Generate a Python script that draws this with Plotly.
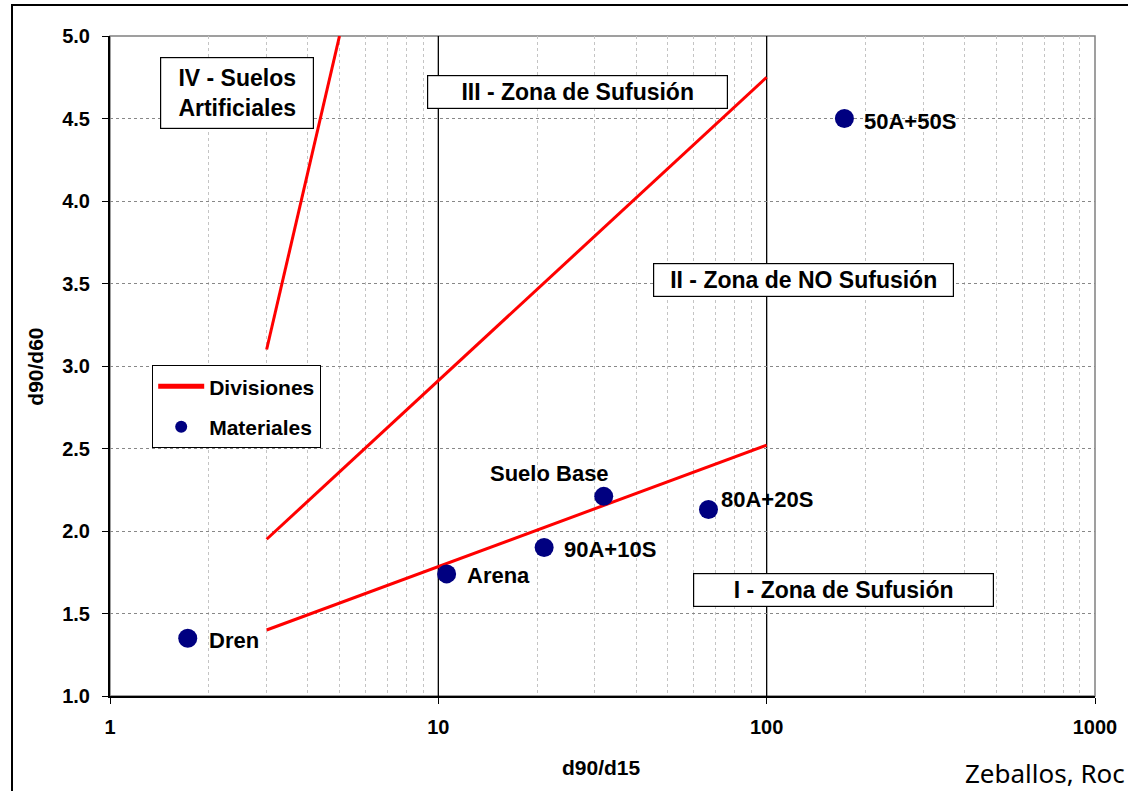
import math
import plotly.graph_objects as go

# ---------------- data ----------------
material_names = ["Dren", "Arena", "90A+10S", "Suelo Base", "80A+20S", "50A+50S"]
material_x = [1.725, 10.6, 21.0, 31.9, 66.5, 172.5]      # d90/d15
material_y = [1.35, 1.74, 1.90, 2.21, 2.13, 4.50]        # d90/d60

div_low_x = [3, 100]
div_low_y = [1.40, 2.52]
div_mid_x = [3, 100]
div_mid_y = [1.95, 4.75]
div_steep_x = [3, 5]
div_steep_y = [3.10, 5.0]

x_tick_vals = [1, 10, 100, 1000]
x_tick_text = ["1", "10", "100", "1000"]
y_tick_vals = [1.0, 1.5, 2.0, 2.5, 3.0, 3.5, 4.0, 4.5, 5.0]

zone_texts = ["IV - Suelos<br>Artificiales", "III - Zona de Sufusión",
              "II - Zona de NO Sufusión", "I - Zona de Sufusión"]

# ---------------- style ----------------
FONT = "Liberation Sans, Arial, sans-serif"
RED = "#FF0000"
NAVY = "#000080"
W, H = 1128, 791
ML, MR, MT, MB = 110, 33, 36, 95
PW, PH = W - ML - MR, H - MT - MB

def px_to_paper(px, py):
    return (px - ML) / PW, (H - MB - py) / PH

# label offsets (xshift, yshift, anchor)
label_style = [(19, -2, "left"), (18, -2, "left"), (18, -2, "left"),
               (7, 23, "right"), (11, 10, "left"), (18, -3, "left")]

# zone boxes: center px, py, width, height
zone_boxes = [(237, 93, 154, 72), (577.8, 92.2, 301, 34),
              (803.8, 279.5, 301, 34), (843.8, 590, 301, 34)]

fig = go.Figure()

# dividing lines
for i, (xs, ys) in enumerate([(div_low_x, div_low_y), (div_mid_x, div_mid_y),
                              (div_steep_x, div_steep_y)]):
    fig.add_trace(go.Scatter(x=xs, y=ys, mode="lines",
                             line=dict(color=RED, width=3),
                             name="Divisiones", legendgroup="div",
                             showlegend=(i == 0), hoverinfo="skip"))

fig.add_trace(go.Scatter(x=material_x, y=material_y, mode="markers",
                         marker=dict(color=NAVY, size=19),
                         name="Materiales", text=material_names))

annotations = []
for name, xv, yv, (xs, ys, anc) in zip(material_names, material_x, material_y, label_style):
    annotations.append(dict(x=math.log10(xv), y=yv, xref="x", yref="y",
                            text=name, showarrow=False, xanchor=anc, yanchor="middle",
                            xshift=xs, yshift=ys,
                            font=dict(family=FONT, size=22, color="black", weight="bold")))

for txt, (cx, cy, bw, bh) in zip(zone_texts, zone_boxes):
    ax_, ay_ = px_to_paper(cx, cy)
    annotations.append(dict(x=ax_, y=ay_, xref="paper", yref="paper", text=txt,
                            showarrow=False, xanchor="center", yanchor="middle",
                            width=bw - 2, height=bh - 2, borderpad=0,
                            bordercolor="black", borderwidth=1.2, bgcolor="white",
                            align="center",
                            font=dict(family=FONT, size=23, color="black", weight="bold")))

# axis titles & source
tx, ty = px_to_paper(601.7, 767)
annotations.append(dict(x=tx, y=ty, xref="paper", yref="paper", text="d90/d15",
                        showarrow=False, xanchor="center", yanchor="middle",
                        font=dict(family=FONT, size=21, color="black", weight="bold")))
tx, ty = px_to_paper(36, 366.7)
annotations.append(dict(x=tx, y=ty, xref="paper", yref="paper", text="d90/d60",
                        showarrow=False, xanchor="center", yanchor="middle", textangle=-90,
                        font=dict(family=FONT, size=21, color="black", weight="bold")))
tx, ty = px_to_paper(1127, 773)
annotations.append(dict(x=tx, y=ty, xref="paper", yref="paper", text="Zeballos, Roc",
                        showarrow=False, xanchor="right", yanchor="middle",
                        font=dict(family="Noto Sans, Open Sans, sans-serif", size=26, color="black")))

minor_vals = [m * 10 ** e for e in range(3) for m in range(2, 10)]

shapes = [
    dict(type="rect", xref="paper", yref="paper", x0=0, x1=1, y0=0, y1=1,
         line=dict(color="#808080", width=1.5), layer="between"),
    dict(type="line", xref="x", yref="paper", x0=10, x1=10, y0=0, y1=1,
         line=dict(color="black", width=1.3), layer="between"),
    dict(type="line", xref="x", yref="paper", x0=100, x1=100, y0=0, y1=1,
         line=dict(color="black", width=1.3), layer="between"),
]
bx0, by1 = px_to_paper(12, 5)
shapes.append(dict(type="rect", xref="paper", yref="paper", x0=bx0, x1=1.3, y0=-0.6, y1=by1,
                   line=dict(color="black", width=2), layer="above"))

fig.update_layout(
    width=W, height=H,
    margin=dict(l=ML, r=MR, t=MT, b=MB),
    paper_bgcolor="white", plot_bgcolor="white",
    font=dict(family=FONT, color="black"),
    showlegend=True,
    legend=dict(x=px_to_paper(152, 365)[0], y=px_to_paper(152, 365)[1],
                xanchor="left", yanchor="top",
                bordercolor="black", borderwidth=1.2, bgcolor="white",
                itemsizing="constant", itemwidth=46,
                font=dict(family=FONT, size=21, color="black", weight="bold")),
    annotations=annotations,
    shapes=shapes,
    xaxis=dict(type="log", range=[0, 3], tickvals=x_tick_vals, ticktext=x_tick_text,
               showgrid=False, zeroline=False,
               showline=True, linecolor="black", linewidth=2,
               ticks="outside", ticklen=6, tickcolor="black", ticklabelstandoff=6,
               tickfont=dict(family=FONT, size=20, color="black", weight="bold"),
               minor=dict(tickvals=minor_vals, showgrid=True, gridcolor="#c4c4c4",
                          griddash="dot", gridwidth=1, ticks="")),
    yaxis=dict(range=[1, 5], tickvals=y_tick_vals, tickformat=".1f",
               showgrid=True, gridcolor="#888888", griddash="dot", gridwidth=1,
               zeroline=False, showline=True, linecolor="black", linewidth=2,
               ticks="outside", ticklen=6, tickcolor="black", ticklabelstandoff=8,
               tickfont=dict(family=FONT, size=20, color="black", weight="bold")),
)

fig.write_html("out.html", config={"displayModeBar": False},
               post_script="document.body.style.margin='0';document.body.style.padding='0';")
